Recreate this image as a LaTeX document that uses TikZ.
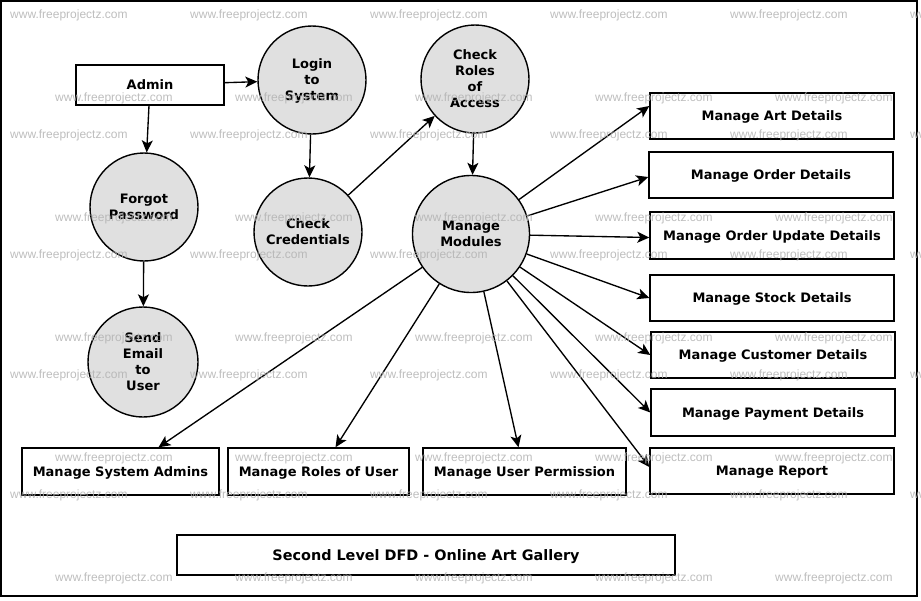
\documentclass[tikz,border=0pt]{standalone}
\usepackage{fontspec}
\setmainfont{DejaVu Sans}
\newfontfamily\wmfont{Liberation Sans}
\usetikzlibrary{arrows.meta}
\definecolor{bubblegray}{RGB}{224,224,224}
\definecolor{markgray}{RGB}{178,178,178}

\begin{document}
\begin{tikzpicture}[x=1pt, y=-1pt,
    bubble/.style={circle, draw, line width=1.4pt, fill=bubblegray, minimum size=108pt, inner sep=0pt, align=center, text depth=0pt, font=\fontsize{13}{16}\selectfont\bfseries},
    store/.style={draw, line width=1.4pt, minimum width=244pt, minimum height=46pt, inner sep=0pt, text depth=0pt, font=\fontsize{13}{16}\selectfont\bfseries},
    flow/.style={line width=1.35pt, -{Stealth[length=12pt, width=11pt, inset=3pt]}},
    wmark/.style={anchor=west, inner sep=0pt, text=markgray, opacity=0.85, font=\wmfont\fontsize{12}{14}\selectfont}]
    \useasboundingbox (0,0) rectangle (921,600);
    \draw[line width=2pt] (1,1) rectangle (917,596);

    \node[store, minimum width=148pt, minimum height=40pt] (admin) at (150,85) {Admin};
    \node[bubble] (login) at (312,80) {Login\\to\\System};
    \node[bubble] (forgot) at (144,207) {Forgot\\Password};
    \node[bubble, minimum size=110pt] (send) at (143,362) {Send\\Email\\to\\User};
    \node[bubble] (cred) at (308,232) {Check\\Credentials};
    \node[bubble] (roles) at (475,79) {Check\\Roles\\of\\Access};
    \node[bubble, minimum size=117pt] (mm) at (471,234) {Manage\\Modules};

    \node[store] (art) at (772,116) {Manage Art Details};
    \node[store] (ord) at (771,175) {Manage Order Details};
    \node[store, minimum height=47pt] (upd) at (772,235.5) {Manage Order Update Details};
    \node[store] (stock) at (772,298) {Manage Stock Details};
    \node[store] (cust) at (773,355) {Manage Customer Details};
    \node[store, minimum height=47pt] (pay) at (773,412.5) {Manage Payment Details};
    \node[store] (rep) at (772,471) {Manage Report};

    \node[store, minimum width=197pt, minimum height=47pt] (sysad) at (120.5,471.5) {Manage System Admins};
    \node[store, minimum width=181pt, minimum height=47pt] (uroles) at (318.5,471.5) {Manage Roles of User};
    \node[store, minimum width=203pt, minimum height=47pt] (perm) at (524.5,471.5) {Manage User Permission};

    \node[store, minimum width=498pt, minimum height=40pt, font=\fontsize{14.4}{16}\selectfont\bfseries] (title) at (426,555) {Second Level DFD - Online Art Gallery};

    \draw[flow] (admin) -- (login);
    \draw[flow] (admin) -- (forgot);
    \draw[flow] (forgot) -- (send);
    \draw[flow] (login) -- (cred);
    \draw[flow] (cred) -- (roles);
    \draw[flow] (roles) -- (mm);
    \foreach \n/\s in {art/10, ord/-2, upd/-2, stock/0, cust/0, pay/0, rep/4}{ \draw[flow] (mm) -- ([yshift=\s pt]\n.west); }
    \foreach \n/\s in {sysad/38, uroles/17, perm/-6}{ \draw[flow] (mm) -- ([xshift=\s pt]\n.north); }

    \foreach \x in {10, 190, 370, 550, 730, 910}{%
        \foreach \y in {15, 135, 255, 375, 495}{ \node[wmark] (wa\x-\y) at (\x,\y) {www.freeprojectz.com}; }
    }
    \foreach \x in {55, 235, 415, 595, 775}{%
        \foreach \y in {98, 218, 338, 458, 578}{ \node[wmark] (wb\x-\y) at (\x,\y) {www.freeprojectz.com}; }
    }
\end{tikzpicture}
\end{document}
